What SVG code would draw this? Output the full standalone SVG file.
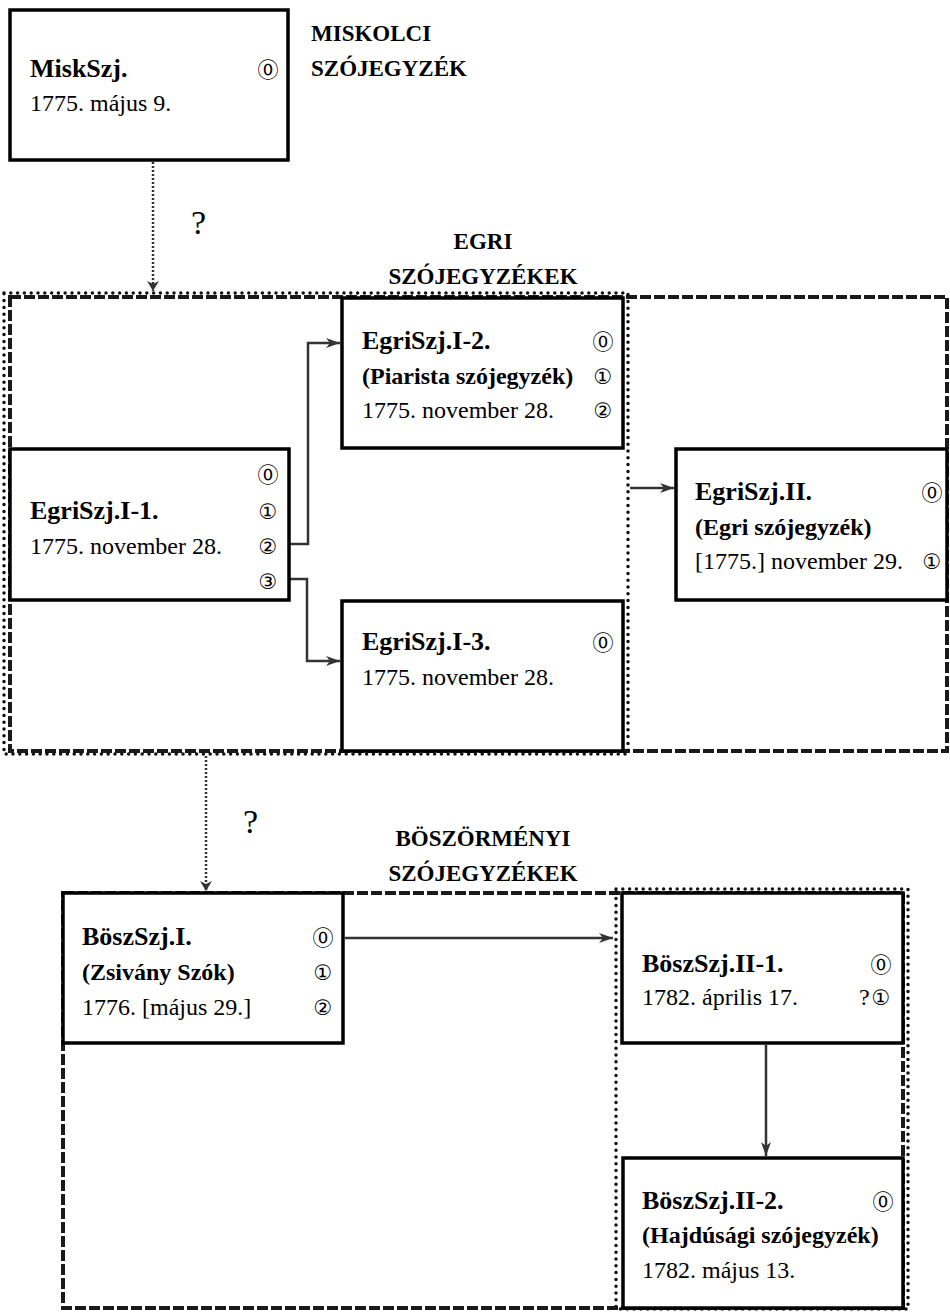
<svg xmlns="http://www.w3.org/2000/svg" width="950" height="1312" viewBox="0 0 950 1312">
<style>
.box{fill:#fff;stroke:#000;stroke-width:3.5}
.t{font-family:"Liberation Serif","Times New Roman",serif;font-weight:bold;font-size:26px;fill:#000}
.s{font-family:"Liberation Serif","Times New Roman",serif;font-weight:bold;font-size:24px;fill:#000}
.d{font-family:"Liberation Serif","Times New Roman",serif;font-size:24px;fill:#000}
.c{font-family:"DejaVu Sans","Noto Sans CJK JP",sans-serif;font-size:21px;text-anchor:middle;dominant-baseline:central;fill:#000}
.lbl{font-family:"Liberation Serif","Times New Roman",serif;font-weight:bold;font-size:23px;fill:#000}
.q{font-family:"Liberation Serif","Times New Roman",serif;font-size:34px;fill:#000}
.dash{fill:none;stroke:#1a1a1a;stroke-width:4;stroke-dasharray:11 3}
.dot{fill:none;stroke:#111;stroke-width:3.5;stroke-dasharray:0 6.8;stroke-linecap:round}
.conn{fill:none;stroke:#333;stroke-width:2.5}
.dconn{fill:none;stroke:#333;stroke-width:2.5;stroke-dasharray:2 2}
</style>
<defs>
<marker id="arr" viewBox="0 0 14 10" markerWidth="14" markerHeight="10" refX="14" refY="5" orient="auto" markerUnits="userSpaceOnUse">
<path d="M0,0 L14,5 L0,10 L4,5 z" fill="#333"/>
</marker>
<marker id="arrs" viewBox="0 0 10 12" markerWidth="10" markerHeight="12" refX="10" refY="6" orient="auto" markerUnits="userSpaceOnUse">
<path d="M0,0 L10,6 L0,12 L3,6 z" fill="#333"/>
</marker>
</defs>

<g id="regions">
<rect class="dash" x="10" y="297" width="937" height="454"/>
<rect class="dot" x="4" y="293" width="624" height="461"/>
<rect class="dash" x="63" y="893" width="840" height="415"/>
<rect class="dot" x="616" y="889" width="292" height="420"/>
</g>

<g id="labels">
<text class="lbl" x="311" y="41">MISKOLCI</text>
<text class="lbl" x="311" y="76">SZÓJEGYZÉK</text>
<text class="lbl" x="483" y="249" text-anchor="middle">EGRI</text>
<text class="lbl" x="483" y="284" text-anchor="middle">SZÓJEGYZÉKEK</text>
<text class="lbl" x="483" y="846" text-anchor="middle">BÖSZÖRMÉNYI</text>
<text class="lbl" x="483" y="881" text-anchor="middle">SZÓJEGYZÉKEK</text>
<text class="q" x="191" y="234">?</text>
<text class="q" x="243" y="833">?</text>
</g>

<g id="connectors">
<path class="dconn" d="M153,162 V291" marker-end="url(#arrs)"/>
<path class="dconn" d="M206,756 V891" marker-end="url(#arrs)"/>
<path class="conn" d="M289,544 H308 V343 H340" marker-end="url(#arr)"/>
<path class="conn" d="M289,579 H307 V661 H340" marker-end="url(#arr)"/>
<path class="conn" d="M630,488 H674" marker-end="url(#arr)"/>
<path class="conn" d="M345,938 H613" marker-end="url(#arr)"/>
<path class="conn" d="M766,1045 V1156" marker-end="url(#arr)"/>
</g>

<g id="MiskSzj">
<rect class="box" x="10" y="10" width="278" height="150"/>
<text class="t" x="30" y="77">MiskSzj.</text>
<text class="d" x="30" y="111">1775. május 9.</text>
<text class="c" x="268" y="70">⓪</text>
</g>

<g id="EgriSzjI1">
<rect class="box" x="10" y="449" width="279" height="151"/>
<text class="t" x="30" y="519">EgriSzj.I-1.</text>
<text class="d" x="30" y="554">1775. november 28.</text>
<text class="c" x="268" y="475">⓪</text>
<text class="c" x="268" y="512">①</text>
<text class="c" x="268" y="547">②</text>
<text class="c" x="268" y="582">③</text>
</g>

<g id="EgriSzjI2">
<rect class="box" x="342" y="298" width="281" height="150"/>
<text class="t" x="362" y="349">EgriSzj.I-2.</text>
<text class="s" x="362" y="384">(Piarista szójegyzék)</text>
<text class="d" x="362" y="418">1775. november 28.</text>
<text class="c" x="603" y="342">⓪</text>
<text class="c" x="603" y="377">①</text>
<text class="c" x="603" y="411">②</text>
</g>

<g id="EgriSzjI3">
<rect class="box" x="342" y="601" width="281" height="150"/>
<text class="t" x="362" y="650">EgriSzj.I-3.</text>
<text class="d" x="362" y="685">1775. november 28.</text>
<text class="c" x="603" y="643">⓪</text>
</g>

<g id="EgriSzjII">
<rect class="box" x="676" y="449" width="271" height="151"/>
<text class="t" x="695" y="500">EgriSzj.II.</text>
<text class="s" x="695" y="535">(Egri szójegyzék)</text>
<text class="d" x="695" y="569">[1775.] november 29.</text>
<text class="c" x="932" y="493">⓪</text>
<text class="c" x="932" y="562">①</text>
</g>

<g id="BoszSzjI">
<rect class="box" x="63" y="893" width="280" height="150"/>
<text class="t" x="82" y="945">BöszSzj.I.</text>
<text class="s" x="82" y="980">(Zsivány Szók)</text>
<text class="d" x="82" y="1015">1776. [május 29.]</text>
<text class="c" x="323" y="938">⓪</text>
<text class="c" x="323" y="973">①</text>
<text class="c" x="323" y="1008">②</text>
</g>

<g id="BoszSzjII1">
<rect class="box" x="622" y="893" width="281" height="150"/>
<text class="t" x="642" y="972">BöszSzj.II-1.</text>
<text class="d" x="642" y="1005">1782. április 17.</text>
<text class="c" x="881" y="965">⓪</text>
<text class="d" x="859" y="1005">?</text>
<text class="c" x="881" y="998">①</text>
</g>

<g id="BoszSzjII2">
<rect class="box" x="623" y="1158" width="280" height="150"/>
<text class="t" x="642" y="1209">BöszSzj.II-2.</text>
<text class="s" x="642" y="1243">(Hajdúsági szójegyzék)</text>
<text class="d" x="642" y="1278">1782. május 13.</text>
<text class="c" x="883" y="1202">⓪</text>
</g>
</svg>
